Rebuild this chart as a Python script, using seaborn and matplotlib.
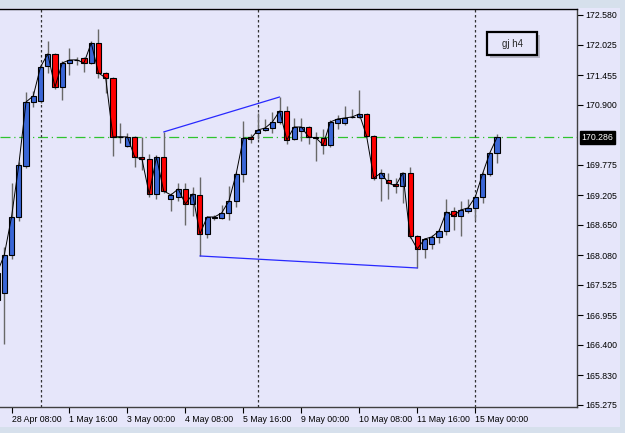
import numpy as np
import pandas as pd
import matplotlib
matplotlib.use('Agg')
import matplotlib.pyplot as plt
import matplotlib.transforms as mtransforms
from matplotlib.patches import Rectangle
import seaborn as sns

# GBPJPY H4 candles
open_ = [167.242, 167.373, 168.085, 168.796, 169.752, 170.950, 170.969, 171.625, 171.850, 171.231,
         171.681, 171.735, 171.775, 171.681, 172.056, 171.494, 171.400, 170.295, 170.126, 170.295,
         169.920, 169.883, 169.227, 169.920, 169.134, 169.171, 169.321, 169.040, 169.209, 168.478,
         168.785, 168.778, 168.871, 169.096, 169.602, 170.295, 170.370, 170.426, 170.463, 170.576,
         170.782, 170.257, 170.407, 170.482, 170.290, 170.276, 170.145, 170.557, 170.557, 170.665,
         170.670, 170.726, 170.314, 169.527, 169.489, 169.415, 169.377, 169.621, 168.440, 168.197,
         168.291, 168.422, 168.534, 168.909, 168.815, 168.909, 168.965, 169.171, 169.602, 169.995]
high = [167.804, 168.234, 169.433, 169.827, 171.138, 171.156, 171.662, 172.093, 171.868, 171.718,
        171.962, 171.793, 171.793, 172.093, 172.318, 171.512, 171.419, 170.557, 170.370, 170.314,
        170.295, 169.976, 169.958, 170.389, 169.246, 169.433, 169.433, 169.358, 169.546, 168.815,
        168.834, 169.021, 169.377, 169.639, 170.595, 170.351, 170.744, 170.632, 170.763, 171.044,
        170.876, 170.651, 170.651, 170.501, 170.389, 170.445, 170.613, 170.707, 170.876, 170.819,
        171.175, 170.744, 170.332, 169.696, 169.621, 169.527, 169.639, 169.733, 168.459, 168.403,
        168.459, 168.572, 169.134, 168.984, 169.096, 169.134, 169.190, 169.639, 170.014, 170.351]
low = [167.054, 166.418, 168.010, 168.721, 169.714, 170.857, 170.932, 171.494, 171.194, 170.988,
       171.456, 171.643, 171.512, 171.662, 171.400, 171.119, 169.939, 170.183, 170.108, 169.733,
       169.677, 169.171, 169.134, 169.246, 168.909, 169.096, 168.647, 168.815, 168.066, 168.403,
       168.740, 168.759, 168.740, 168.984, 169.452, 170.183, 170.257, 170.407, 170.370, 170.538,
       170.164, 170.239, 170.220, 170.164, 169.845, 169.976, 170.108, 170.445, 170.520, 170.651,
       170.651, 170.295, 169.489, 169.096, 169.134, 169.246, 169.059, 168.403, 167.841, 168.028,
       168.197, 168.309, 168.459, 168.553, 168.440, 168.871, 168.740, 169.059, 169.564, 169.808]
close = [167.747, 168.085, 168.796, 169.770, 170.950, 171.063, 171.606, 171.850, 171.231, 171.681,
         171.737, 171.740, 171.681, 172.056, 171.494, 171.400, 170.295, 170.300, 170.295, 169.920,
         169.883, 169.227, 169.920, 169.283, 169.209, 169.321, 169.040, 169.227, 168.478, 168.796,
         168.796, 168.871, 169.096, 169.602, 170.276, 170.257, 170.426, 170.463, 170.576, 170.782,
         170.239, 170.482, 170.482, 170.295, 170.280, 170.145, 170.576, 170.632, 170.651, 170.670,
         170.726, 170.314, 169.527, 169.621, 169.433, 169.377, 169.621, 168.440, 168.197, 168.384,
         168.422, 168.534, 168.890, 168.815, 168.928, 168.965, 169.171, 169.602, 169.995, 170.286]

date_labels = ['28 Apr 08:00', '1 May 16:00', '3 May 00:00', '4 May 08:00', '5 May 16:00',
               '9 May 00:00', '10 May 08:00', '11 May 16:00', '15 May 00:00']
date_bars = [2, 10, 18, 26, 34, 42, 50, 58, 66]
week_bars = [6, 36, 66]
price_ticks = [172.580, 172.025, 171.455, 170.900, 169.775, 169.205, 168.650,
               168.080, 167.525, 166.955, 166.400, 165.830, 165.275]
bid = 170.286

upper_trend_bars = [23, 39]
upper_trend_prices = [170.389, 171.044]
lower_trend_bars = [28, 58]
lower_trend_prices = [168.066, 167.841]

sns.set_theme(style='white')
plt.rcParams['font.family'] = ['Liberation Sans', 'DejaVu Sans']

BG = '#E6E6FA'
FRAME = '#D6E0EC'
BULL = '#3A66D6'
BEAR = '#FF0000'

df = pd.DataFrame({'bar': np.arange(len(close)), 'open': open_, 'high': high,
                   'low': low, 'close': close})

W, H = 625, 433
fig = plt.figure(figsize=(W / 100, H / 100), dpi=100, facecolor=BG)
ax = fig.add_axes([0, 1 - 407 / H, 577 / W, (407 - 9) / H])
ax.set_facecolor(BG)

# frame strips around the chart window
for x0, y0, w, h in [(0, 0, W, 8), (0, 427, W, 6), (620, 0, 5, H)]:
    fig.patches.append(Rectangle((x0 / W, 1 - (y0 + h) / H), w / W, h / H,
                                 transform=fig.transFigure, facecolor=FRAME,
                                 edgecolor='none', zorder=0))

# wicks and bodies
ax.vlines(df['bar'], df['low'], df['high'], color='#686868', lw=1, zorder=2)
body_lo = np.minimum(df['open'], df['close'])
body_h = np.maximum((df['close'] - df['open']).abs(), 0.004)
colors = [BULL if c >= o else BEAR for o, c in zip(df['open'], df['close'])]
ax.bar(df['bar'], body_h, bottom=body_lo, width=0.7, color=colors,
       edgecolor='black', linewidth=0.8, zorder=3)

# close line
sns.lineplot(data=df, x='bar', y='close', color='black', lw=0.7, ax=ax, zorder=4)

# bid line, week separators, trendlines
ax.axhline(bid, color='#2FC42F', lw=0.9, ls=(0, (8, 3, 1, 3)), zorder=1)
for b in week_bars:
    ax.axvline(b, color='#333333', lw=0.9, ls=(0, (2, 2)), zorder=1)
ax.plot(upper_trend_bars, upper_trend_prices, color='#2828FF', lw=0.9, zorder=5)
ax.plot(lower_trend_bars, lower_trend_prices, color='#2828FF', lw=0.9, zorder=5)

ax.set_xlim(0.41, 80.04)
ax.set_ylim(165.237, 172.692)

ax.yaxis.tick_right()
ax.set_yticks(price_ticks)
ax.set_yticklabels([f'{p:.3f}' for p in price_ticks], fontsize=6.3)
ax.set_xticks(date_bars)
ax.set_xticklabels(date_labels, fontsize=6.3, ha='left')
ax.tick_params(axis='both', which='both', direction='out', length=4, width=0.8,
               colors='black', pad=2)
ax.tick_params(axis='x', bottom=True, length=4)
ax.tick_params(axis='y', right=True, left=False)
ax.set_xlabel('')
ax.set_ylabel('')
ax.grid(False)

ax.spines['left'].set_visible(False)
ax.spines['top'].set_color('black')
ax.spines['right'].set_color('#404040')
ax.spines['bottom'].set_color('#404040')
for side in ['top', 'right', 'bottom']:
    ax.spines[side].set_linewidth(1)

# current price tag on the price scale
trans = mtransforms.blended_transform_factory(ax.transAxes, ax.transData)
ax.text(1.008, bid, f'{bid:.3f}', transform=trans, ha='left', va='center',
        fontsize=6.3, color='white', clip_on=False,
        bbox=dict(facecolor='black', edgecolor='black', pad=1.2))

# "gj h4" label with shadow
fig.patches.append(Rectangle((490 / W, 1 - 58 / H), 50 / W, 23 / H, transform=fig.transFigure,
                             facecolor='#B8B8C8', edgecolor='none', zorder=6))
fig.patches.append(Rectangle((487 / W, 1 - 55 / H), 50 / W, 23 / H, transform=fig.transFigure,
                             facecolor=BG, edgecolor='black', lw=1.6, zorder=7))
fig.text(512 / W, 1 - 44 / H, 'gj h4', ha='center', va='center', fontsize=7, zorder=8)

fig.savefig('out.png', dpi=100, facecolor=BG)
